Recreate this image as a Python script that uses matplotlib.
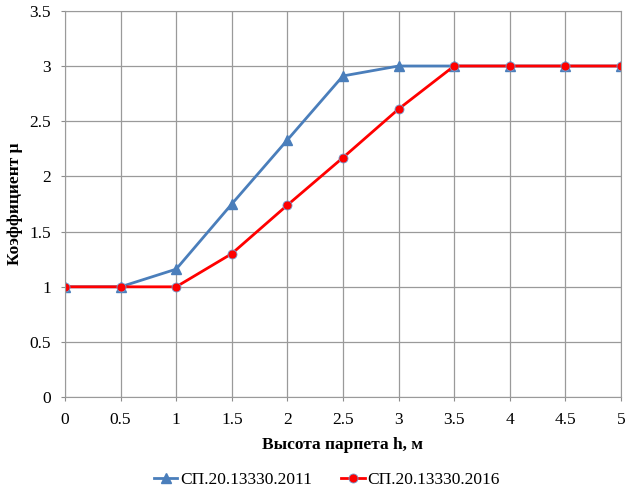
import numpy as np
import matplotlib.pyplot as plt

# data
h = [0, 0.5, 1, 1.5, 2, 2.5, 3, 3.5, 4, 4.5, 5]
mu_2011 = [1, 1, 1.16, 1.75, 2.33, 2.91, 3, 3, 3, 3, 3]
mu_2016 = [1, 1, 1, 1.3, 1.74, 2.17, 2.61, 3, 3, 3, 3]
labels = ['СП.20.13330.2011', 'СП.20.13330.2016']

plt.rcParams['font.family'] = ['Liberation Serif', 'DejaVu Serif']
plt.rcParams['font.size'] = 12.5

fig = plt.figure(figsize=(6.31, 4.91), dpi=100)
ax = fig.add_axes([0.103, 0.191, 0.881, 0.787])

ax.plot(h, mu_2011, color='#4a7ebb', lw=2, marker='^', ms=6.5, label=labels[0])
ax.plot(h, mu_2016, color='#ff0000', lw=2, marker='o', ms=6.5,
        mec='#6f9fd0', mew=0.6, label=labels[1])

ax.set_xlim(0, 5); ax.set_ylim(0, 3.5)
ax.set_xticks(np.arange(0, 5.01, 0.5))
ax.set_yticks(np.arange(0, 3.51, 0.5))
ax.set_xticklabels([f'{v:g}' for v in np.arange(0, 5.01, 0.5)])
ax.set_yticklabels([f'{v:g}' for v in np.arange(0, 3.51, 0.5)])
ax.grid(color='#9a9a9a', lw=0.9)
ax.set_axisbelow(True)
for s in ax.spines.values():
    s.set_color('#9a9a9a')
ax.tick_params(direction='out', length=3, color='#8c8c8c')
ax.tick_params(axis='y', pad=7)
ax.tick_params(axis='x', pad=8)

ax.set_xlabel('Высота парпета h, м', fontweight='bold', fontsize=12.5, labelpad=6)
ax.set_ylabel('Коэффициент μ', fontweight='bold', fontsize=12.5, labelpad=5)

fig.legend(loc='lower center', ncol=2, frameon=False, bbox_to_anchor=(0.518, -0.026),
           handlelength=1.35, handletextpad=0.15, columnspacing=1.7, fontsize=12.5)

fig.savefig('out.png', dpi=100)
